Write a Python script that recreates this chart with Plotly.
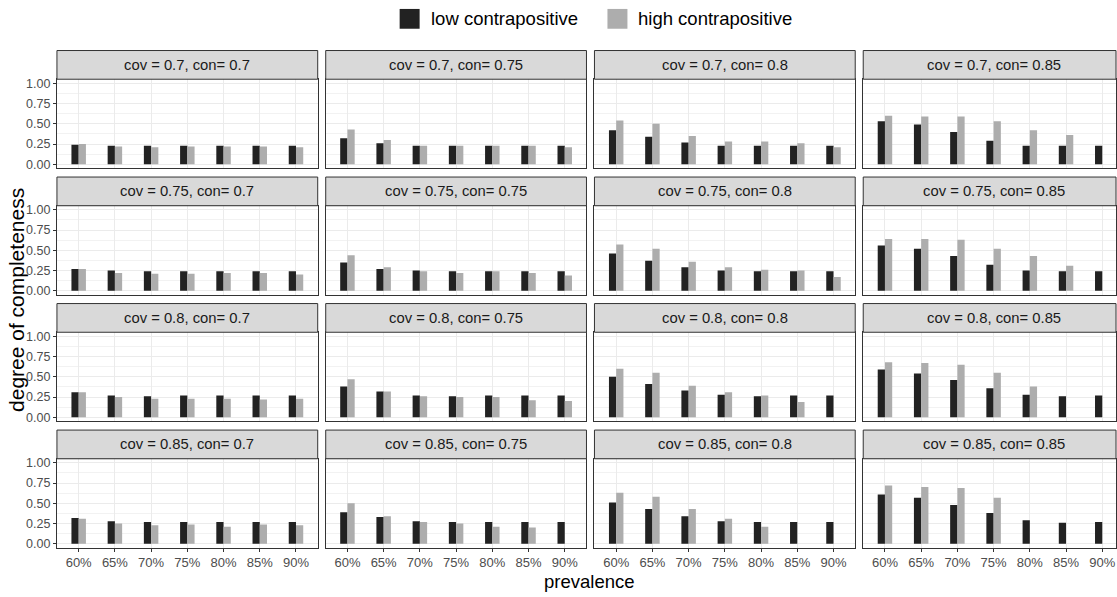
import plotly.graph_objects as go

prevalence = ["60%", "65%", "70%", "75%", "80%", "85%", "90%"]
cov_levels = ["0.7", "0.75", "0.8", "0.85"]
con_levels = ["0.7", "0.75", "0.8", "0.85"]

# each list: one inner list per con level (0.7, 0.75, 0.8, 0.85)
low_cov_070 = [
    [0.24, 0.23, 0.23, 0.23, 0.23, 0.23, 0.23],
    [0.32, 0.26, 0.23, 0.23, 0.23, 0.23, 0.23],
    [0.42, 0.34, 0.27, 0.23, 0.23, 0.23, 0.23],
    [0.53, 0.49, 0.40, 0.29, 0.23, 0.23, 0.23],
]
high_cov_070 = [
    [0.25, 0.22, 0.21, 0.22, 0.22, 0.22, 0.21],
    [0.43, 0.30, 0.23, 0.23, 0.23, 0.23, 0.21],
    [0.54, 0.50, 0.35, 0.28, 0.28, 0.26, 0.21],
    [0.60, 0.59, 0.59, 0.53, 0.42, 0.36, None],
]
low_cov_075 = [
    [0.27, 0.25, 0.24, 0.24, 0.24, 0.24, 0.24],
    [0.35, 0.27, 0.25, 0.24, 0.24, 0.24, 0.24],
    [0.46, 0.37, 0.29, 0.25, 0.24, 0.24, 0.24],
    [0.56, 0.52, 0.43, 0.32, 0.25, 0.24, 0.24],
]
high_cov_075 = [
    [0.27, 0.22, 0.21, 0.21, 0.22, 0.22, 0.20],
    [0.44, 0.29, 0.24, 0.22, 0.24, 0.22, 0.19],
    [0.57, 0.52, 0.36, 0.29, 0.26, 0.25, 0.17],
    [0.64, 0.64, 0.63, 0.52, 0.43, 0.31, None],
]
low_cov_080 = [
    [0.31, 0.27, 0.26, 0.27, 0.27, 0.27, 0.27],
    [0.38, 0.32, 0.27, 0.26, 0.27, 0.27, 0.27],
    [0.50, 0.41, 0.33, 0.28, 0.26, 0.27, 0.27],
    [0.59, 0.54, 0.46, 0.36, 0.28, 0.26, 0.27],
]
high_cov_080 = [
    [0.31, 0.25, 0.23, 0.23, 0.23, 0.22, 0.23],
    [0.47, 0.32, 0.26, 0.25, 0.25, 0.21, 0.20],
    [0.60, 0.55, 0.39, 0.31, 0.27, 0.19, None],
    [0.68, 0.67, 0.65, 0.55, 0.38, None, None],
]
low_cov_085 = [
    [0.32, 0.28, 0.27, 0.27, 0.27, 0.27, 0.27],
    [0.39, 0.33, 0.28, 0.27, 0.27, 0.27, 0.27],
    [0.51, 0.43, 0.34, 0.28, 0.27, 0.27, 0.27],
    [0.61, 0.57, 0.48, 0.38, 0.29, 0.26, 0.27],
]
high_cov_085 = [
    [0.31, 0.25, 0.23, 0.24, 0.21, 0.24, 0.23],
    [0.50, 0.34, 0.27, 0.25, 0.21, 0.20, None],
    [0.63, 0.58, 0.43, 0.31, 0.21, None, None],
    [0.72, 0.70, 0.69, 0.57, None, None, None],
]

low_all = [low_cov_070, low_cov_075, low_cov_080, low_cov_085]
high_all = [high_cov_070, high_cov_075, high_cov_080, high_cov_085]

W, H = 1117, 597
FONT = "Liberation Sans, Arial, sans-serif"
LOW_COLOR = "#222222"
HIGH_COLOR = "#adadad"
BORDER = "#333333"
GRID = "#ebebeb"

col_left = [57 + 269 * c for c in range(4)]
col_width = 261
px_per_unit = col_width / 7.2
strip_h = 29

fig = go.Figure()
layout = dict(
    width=W, height=H,
    margin=dict(l=0, r=0, t=0, b=0),
    paper_bgcolor="white", plot_bgcolor="white",
    barmode="group", bargap=0.6, bargroupgap=0.0,
    showlegend=False,
    font=dict(family=FONT, color="#4d4d4d"),
)
shapes = []
annotations = []

for r in range(4):
    top = 48 + 127.8 * r
    body_top = top + strip_h
    bottom = top + 119
    for c in range(4):
        k = r * 4 + c + 1
        x0 = col_left[c]
        x1 = min(x0 + col_width, W)
        xs = "" if k == 1 else str(k)
        xref, yref = "x" + xs, "y" + xs
        fig.add_trace(go.Bar(
            x=prevalence, y=low_all[r][c], name="low contrapositive",
            marker=dict(color=LOW_COLOR, line=dict(width=0)),
            xaxis=xref, yaxis=yref,
        ))
        fig.add_trace(go.Bar(
            x=prevalence, y=high_all[r][c], name="high contrapositive",
            marker=dict(color=HIGH_COLOR, line=dict(width=0)),
            xaxis=xref, yaxis=yref,
        ))
        xmax = -0.6 + (x1 - x0) / px_per_unit
        layout["xaxis" + xs] = dict(
            domain=[x0 / W, x1 / W], anchor=yref,
            type="category", categoryorder="array", categoryarray=prevalence,
            range=[-0.6, xmax],
            showgrid=True, gridcolor=GRID, gridwidth=1,
            showline=True, linecolor=BORDER, linewidth=1, mirror=True,
            ticks="outside" if r == 3 else "", ticklen=3, tickcolor=BORDER,
            showticklabels=(r == 3),
            tickfont=dict(family=FONT, size=13, color="#4d4d4d"),
            zeroline=False, fixedrange=True,
        )
        layout["yaxis" + xs] = dict(
            domain=[(H - bottom) / H, (H - body_top) / H], anchor=xref,
            range=[-0.05, 1.05],
            tickvals=[0, 0.25, 0.5, 0.75, 1.0],
            ticktext=["0.00", "0.25", "0.50", "0.75", "1.00"],
            showgrid=True, gridcolor=GRID, gridwidth=1,
            minor=dict(tickvals=[0.125, 0.375, 0.625, 0.875], showgrid=True,
                       gridcolor="#f2f2f2", gridwidth=0.6, ticks=""),
            showline=True, linecolor=BORDER, linewidth=1, mirror=True,
            ticks="outside" if c == 0 else "", ticklen=3, tickcolor=BORDER,
            showticklabels=(c == 0),
            tickfont=dict(family=FONT, size=12.5, color="#4d4d4d"),
            zeroline=False, fixedrange=True,
        )
        shapes.append(dict(
            type="rect", xref="paper", yref="paper",
            x0=x0 / W, x1=x1 / W,
            y0=(H - body_top) / H, y1=(H - top) / H,
            fillcolor="#d9d9d9", line=dict(color=BORDER, width=1),
            layer="above",
        ))
        annotations.append(dict(
            text=f"cov = {cov_levels[r]}, con= {con_levels[c]}",
            xref="paper", yref="paper",
            x=(x0 + col_width / 2) / W, y=(H - (top + strip_h / 2)) / H,
            xanchor="center", yanchor="middle", showarrow=False,
            font=dict(family=FONT, size=14.8, color="#1a1a1a"),
        ))

# axis titles
annotations.append(dict(
    text="degree of completeness", xref="paper", yref="paper",
    x=17 / W, y=(H - 300) / H, textangle=-90, showarrow=False,
    xanchor="center", yanchor="middle",
    font=dict(family=FONT, size=21, color="black"),
))
annotations.append(dict(
    text="prevalence", xref="paper", yref="paper",
    x=590 / W, y=(H - 584) / H, showarrow=False,
    xanchor="center", yanchor="middle",
    font=dict(family=FONT, size=18.5, color="black"),
))

# legend (drawn keys + text)
legend_items = [("low contrapositive", LOW_COLOR, 400), ("high contrapositive", HIGH_COLOR, 608)]
for label, color, lx in legend_items:
    shapes.append(dict(
        type="rect", xref="paper", yref="paper",
        x0=lx / W, x1=(lx + 20) / W, y0=(H - 26) / H, y1=(H - 6) / H,
        fillcolor=color, line=dict(width=0),
    ))
    annotations.append(dict(
        text=label, xref="paper", yref="paper",
        x=(lx + 29) / W, y=(H - 16) / H, showarrow=False,
        xanchor="left", yanchor="middle",
        font=dict(family=FONT, size=18.5, color="black"),
    ))

layout["shapes"] = shapes
layout["annotations"] = annotations
fig.update_layout(**layout)
fig.write_html("out.html", config={"displayModeBar": False},
               post_script="document.body.style.margin='0px';")
